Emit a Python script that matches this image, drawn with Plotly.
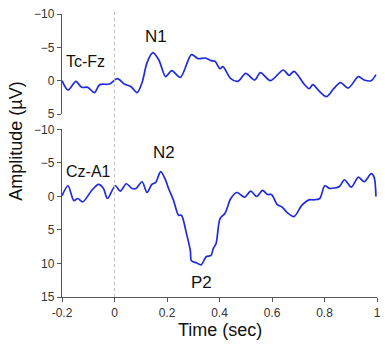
import plotly.graph_objects as go
from plotly.subplots import make_subplots

# Top trace (Tc-Fz)
t_top = [-0.2, -0.177, -0.147, -0.125, -0.102, -0.076, -0.057, -0.019, 0.011, 0.037, 0.063,
         0.086, 0.105, 0.124, 0.146, 0.169, 0.195, 0.218, 0.251, 0.293, 0.319, 0.346, 0.368,
         0.383, 0.402, 0.413, 0.443, 0.470, 0.500, 0.534, 0.556, 0.594, 0.643, 0.665, 0.684,
         0.722, 0.741, 0.756, 0.778, 0.808, 0.835, 0.861, 0.891, 0.929, 0.951, 0.978, 0.996]
v_top = [0.0, 1.4, 0.1, 1.0, 1.0, 1.8, 0.6, 0.5, -0.3, 0.5, 0.9,
         1.8, 0.3, -2.7, -4.2, -3.1, -0.6, -1.5, -0.5, -3.9, -3.3, -3.4, -3.0,
         -2.9, -1.8, -2.1, -0.3, 0.1, -1.1, -0.1, -1.2, 0.0, -1.6, -0.8, -1.4,
         0.5, 1.2, 0.6, 1.5, 2.4, 1.2, 0.3, 1.1, -0.6, -0.1, 0.0, -0.9]

# Bottom trace (Cz-A1)
t_bot = [-0.2, -0.177, -0.155, -0.140, -0.121, -0.087, -0.061, -0.042, -0.027, 0.003, 0.022,
         0.045, 0.067, 0.082, 0.105, 0.124, 0.142, 0.157, 0.176, 0.195, 0.206, 0.225, 0.244,
         0.255, 0.274, 0.289, 0.293, 0.312, 0.330, 0.349, 0.368, 0.376, 0.387, 0.402, 0.421,
         0.443, 0.466, 0.496, 0.519, 0.541, 0.564, 0.583, 0.598, 0.620, 0.639, 0.658, 0.684,
         0.714, 0.741, 0.759, 0.782, 0.801, 0.820, 0.857, 0.876, 0.902, 0.929, 0.951, 0.978,
         0.989, 0.996]
v_bot = [-0.1, -1.6, 0.6, 0.3, 0.8, -0.9, -1.8, -1.2, 0.3, -1.6, -0.8,
         -1.9, -1.2, -1.2, -2.2, -0.6, -1.8, -2.1, -3.7, -2.4, -1.2, 0.6, 2.8,
         2.8, 5.5, 8.1, 9.6, 9.9, 10.2, 9.0, 8.8, 7.8, 7.0, 3.3, 2.5,
         0.3, -0.6, 0.1, -0.8, 0.0, -0.9, -0.3, -0.3, 1.2, 1.6, 2.4, 3.0,
         1.3, 0.5, 0.5, 0.3, -1.6, -1.2, -1.5, -2.5, -1.4, -2.9, -2.2, -3.4,
         -2.9, 0.0]

x_ticks = [-0.2, 0, 0.2, 0.4, 0.6, 0.8, 1]
x_ticklabels = ["-0.2", "0", "0.2", "0.4", "0.6", "0.8", "1"]
y_top_ticks = [-10, -5, 0, 5]
y_bot_ticks = [-10, -5, 0, 5, 10, 15]

LINE = "#1f2bdc"
AX = "#555555"
FONT = "Liberation Sans, Arial, sans-serif"

fig = make_subplots(rows=2, cols=1, shared_xaxes=False)
fig.add_trace(go.Scatter(x=t_top, y=v_top, mode="lines", line=dict(color=LINE, width=1.7, shape="spline", smoothing=0.8)), row=1, col=1)
fig.add_trace(go.Scatter(x=t_bot, y=v_bot, mode="lines", line=dict(color=LINE, width=1.7, shape="spline", smoothing=0.8)), row=2, col=1)

axcommon = dict(showgrid=False, zeroline=False, showline=True, linecolor=AX, linewidth=1.3,
                ticks="outside", ticklen=4, tickcolor=AX, tickwidth=1.3,
                tickfont=dict(size=12, color="#333333", family=FONT))

fig.update_layout(
    width=385, height=347,
    margin=dict(l=62, r=4, t=14, b=50),
    plot_bgcolor="white", paper_bgcolor="white",
    showlegend=False,
    font=dict(family=FONT),
    xaxis=dict(domain=[0, 1], range=[-0.2, 1], anchor="y", visible=False),
    yaxis=dict(domain=[0.6466, 1], range=[5, -10], tickvals=y_top_ticks, anchor="x", **axcommon),
    xaxis2=dict(domain=[0, 1], range=[-0.2, 1], anchor="y2", tickvals=x_ticks, ticktext=x_ticklabels, **axcommon),
    yaxis2=dict(domain=[0, 0.5919], range=[15, -10], tickvals=y_bot_ticks, anchor="x2", **axcommon),
)

fig.add_shape(type="line", xref="x2", yref="paper", x0=0, x1=0, y0=0, y1=1.01,
              line=dict(color="#bbbbbb", width=1, dash="dot"))

def ann(text, x, y, xref, yref, size):
    fig.add_annotation(text=text, x=x, y=y, xref=xref, yref=yref, showarrow=False,
                       font=dict(size=size, color="#111111", family=FONT))

ann("Tc-Fz", -0.110, -2.85, "x", "y", 16)
ann("N1", 0.157, -6.6, "x", "y", 17)
ann("Cz-A1", -0.098, -3.75, "x2", "y2", 16)
ann("N2", 0.188, -6.6, "x2", "y2", 17)
ann("P2", 0.33, 12.9, "x2", "y2", 17)

fig.add_annotation(text="Time (sec)", x=0.5, y=-0.115, xref="paper", yref="paper",
                   showarrow=False, yanchor="middle", font=dict(size=18, color="#111111", family=FONT))
fig.add_annotation(text="Amplitude (µV)", x=-0.147, y=0.551, xref="paper", yref="paper",
                   showarrow=False, textangle=-90, xanchor="center", yanchor="middle",
                   font=dict(size=18, color="#111111", family=FONT))

fig.write_html("out.html", config={"displayModeBar": False},
               post_script="document.body.style.margin='0';document.body.style.overflow='hidden';")
